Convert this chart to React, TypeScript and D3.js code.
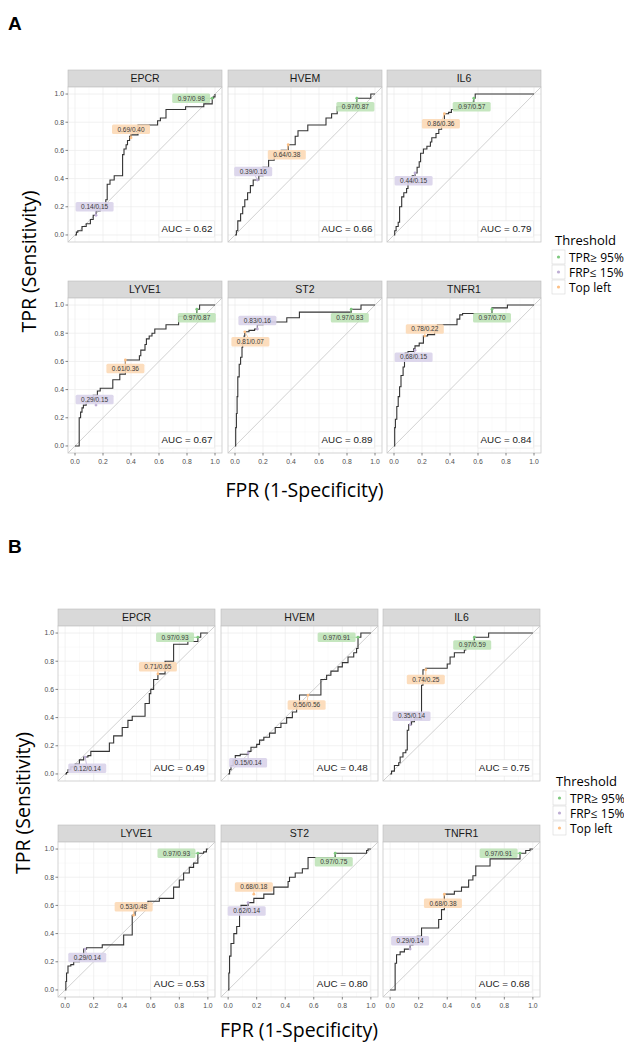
import React from "react";
import * as d3 from "d3";

// ---------- data ----------
const markers = ["EPCR", "HVEM", "IL6", "LYVE1", "ST2", "TNFR1"];
const axisTicks = [0, 0.2, 0.4, 0.6, 0.8, 1.0];
const legendLabels = ["TPR\u2265 95%", "FRP\u2264 15%", "Top left"];
const thresholdColors = ["#7fc97f", "#beaed4", "#fdc086"];
const labelFills = ["#bfe3b8", "#d9d3ea", "#fcd9b6"];

// ROC curves: [fpr where tpr rises, tpr after rise]
const rocEpcrA = [[0,0],[0.01,0.02],[0.02,0.03],[0.05,0.06],[0.08,0.08],[0.11,0.11],[0.13,0.14],[0.15,0.17],[0.18,0.2],[0.22,0.25],[0.23,0.36],[0.25,0.39],[0.28,0.42],[0.34,0.57],[0.35,0.61],[0.365,0.64],[0.375,0.67],[0.39,0.7],[0.4,0.71],[0.45,0.78],[0.59,0.81],[0.61,0.83],[0.65,0.89],[0.79,0.91],[0.92,0.93],[0.98,0.97],[0.99,0.98],[1,1]];
const rocHvemA = [[0,0],[0.01,0.03],[0.02,0.1],[0.04,0.15],[0.055,0.2],[0.07,0.25],[0.09,0.3],[0.11,0.35],[0.13,0.39],[0.17,0.42],[0.2,0.48],[0.24,0.53],[0.28,0.56],[0.33,0.6],[0.38,0.64],[0.43,0.7],[0.45,0.74],[0.52,0.78],[0.65,0.83],[0.69,0.86],[0.73,0.91],[0.87,0.97],[0.97,1.0],[1,1]];
const rocIl6A = [[0,0],[0.005,0.03],[0.015,0.06],[0.03,0.09],[0.04,0.2],[0.055,0.27],[0.07,0.3],[0.09,0.33],[0.1,0.37],[0.13,0.42],[0.15,0.44],[0.165,0.48],[0.18,0.52],[0.19,0.58],[0.21,0.61],[0.235,0.63],[0.26,0.66],[0.27,0.69],[0.3,0.72],[0.32,0.75],[0.34,0.78],[0.36,0.86],[0.39,0.87],[0.41,0.89],[0.46,0.91],[0.5,0.94],[0.57,0.97],[0.58,1.0],[1,1]];
const rocLyve1A = [[0,0],[0.03,0],[0.03,0.2],[0.04,0.24],[0.05,0.27],[0.06,0.29],[0.08,0.31],[0.1,0.33],[0.13,0.36],[0.16,0.39],[0.18,0.41],[0.27,0.47],[0.32,0.51],[0.36,0.61],[0.46,0.64],[0.47,0.68],[0.5,0.72],[0.51,0.76],[0.53,0.78],[0.55,0.8],[0.57,0.83],[0.65,0.86],[0.74,0.92],[0.87,0.97],[0.89,1.0],[1,1]];
const rocSt2A = [[0,0],[0.005,0.13],[0.01,0.23],[0.015,0.35],[0.02,0.49],[0.03,0.58],[0.04,0.63],[0.05,0.7],[0.055,0.75],[0.065,0.78],[0.07,0.81],[0.1,0.82],[0.14,0.83],[0.16,0.86],[0.2,0.88],[0.37,0.91],[0.46,0.95],[0.83,0.97],[0.9,1.0],[1,1]];
const rocTnfr1A = [[0,0],[0.005,0.13],[0.01,0.19],[0.02,0.28],[0.03,0.35],[0.04,0.42],[0.05,0.5],[0.065,0.56],[0.075,0.61],[0.08,0.66],[0.1,0.67],[0.14,0.69],[0.15,0.71],[0.18,0.73],[0.21,0.78],[0.24,0.79],[0.29,0.81],[0.31,0.86],[0.45,0.9],[0.47,0.93],[0.49,0.94],[0.7,0.98],[0.81,1.0],[1,1]];

const rocEpcrB = [[0,0],[0.01,0.01],[0.02,0.03],[0.04,0.05],[0.07,0.07],[0.1,0.1],[0.13,0.12],[0.16,0.13],[0.18,0.16],[0.31,0.22],[0.34,0.27],[0.4,0.33],[0.44,0.38],[0.47,0.41],[0.56,0.5],[0.59,0.57],[0.6,0.6],[0.62,0.67],[0.65,0.71],[0.7,0.8],[0.76,0.92],[0.86,0.94],[0.93,0.97],[0.95,1.0],[1,1]];
const rocHvemB = [[0,0],[0.01,0.03],[0.02,0.06],[0.035,0.1],[0.05,0.13],[0.085,0.14],[0.14,0.16],[0.16,0.19],[0.2,0.21],[0.22,0.24],[0.25,0.26],[0.29,0.29],[0.33,0.33],[0.37,0.36],[0.41,0.4],[0.45,0.44],[0.48,0.5],[0.5,0.56],[0.56,0.56],[0.65,0.67],[0.69,0.7],[0.72,0.73],[0.77,0.76],[0.8,0.79],[0.84,0.83],[0.88,0.86],[0.9,0.89],[0.91,0.97],[0.93,1.0],[1,1]];
const rocIl6B = [[0,0],[0.01,0.02],[0.03,0.06],[0.06,0.08],[0.07,0.12],[0.09,0.15],[0.11,0.17],[0.12,0.31],[0.13,0.35],[0.15,0.37],[0.17,0.39],[0.22,0.63],[0.23,0.74],[0.25,0.75],[0.4,0.78],[0.42,0.83],[0.45,0.86],[0.52,0.88],[0.53,0.9],[0.55,0.93],[0.59,0.97],[0.69,1.0],[1,1]];
const rocLyve1B = [[0,0],[0.005,0.06],[0.01,0.12],[0.02,0.17],[0.04,0.18],[0.06,0.2],[0.1,0.22],[0.13,0.29],[0.15,0.3],[0.26,0.32],[0.41,0.39],[0.47,0.53],[0.49,0.56],[0.5,0.58],[0.52,0.6],[0.58,0.63],[0.66,0.65],[0.76,0.73],[0.8,0.78],[0.83,0.83],[0.87,0.87],[0.9,0.9],[0.93,0.97],[0.97,0.98],[0.99,1.0],[1,1]];
const rocSt2B = [[0,0],[0.005,0.12],[0.01,0.24],[0.02,0.33],[0.04,0.4],[0.06,0.45],[0.08,0.54],[0.09,0.6],[0.14,0.62],[0.18,0.65],[0.25,0.68],[0.32,0.73],[0.42,0.77],[0.43,0.8],[0.47,0.83],[0.52,0.86],[0.56,0.94],[0.75,0.97],[0.97,0.99],[0.98,1.0],[1,1]];
const rocTnfr1B = [[0,0],[0.03,0],[0.035,0.19],[0.045,0.25],[0.07,0.27],[0.1,0.29],[0.14,0.32],[0.16,0.35],[0.19,0.38],[0.22,0.44],[0.34,0.5],[0.36,0.57],[0.38,0.68],[0.45,0.7],[0.5,0.73],[0.55,0.78],[0.58,0.81],[0.6,0.88],[0.7,0.93],[0.91,0.97],[0.95,0.99],[0.98,1.0],[1,1]];

const aucA = [0.62, 0.66, 0.79, 0.67, 0.89, 0.84];
const aucB = [0.49, 0.48, 0.75, 0.53, 0.80, 0.68];

// threshold points [tpr, fpr]
const tpr95A = [[0.97,0.98],[0.97,0.87],[0.97,0.57],[0.97,0.87],[0.97,0.83],[0.97,0.70]];
const frp15A = [[0.14,0.15],[0.39,0.16],[0.44,0.15],[0.29,0.15],[0.83,0.16],[0.68,0.15]];
const topLeftA = [[0.69,0.40],[0.64,0.38],[0.86,0.36],[0.61,0.36],[0.81,0.07],[0.78,0.22]];
const tpr95B = [[0.97,0.93],[0.97,0.91],[0.97,0.59],[0.97,0.93],[0.97,0.75],[0.97,0.91]];
const frp15B = [[0.12,0.14],[0.15,0.14],[0.35,0.14],[0.29,0.14],[0.62,0.14],[0.29,0.14]];
const topLeftB = [[0.71,0.65],[0.56,0.56],[0.74,0.25],[0.53,0.48],[0.68,0.18],[0.68,0.38]];

// repelled label centres [fpr, tpr]
const tpr95LabelA = [[0.83,0.97],[0.86,0.91],[0.555,0.91],[0.87,0.91],[0.82,0.91],[0.70,0.91]];
const frp15LabelA = [[0.14,0.20],[0.13,0.45],[0.14,0.385],[0.14,0.33],[0.16,0.89],[0.14,0.63]];
const topLeftLabelA = [[0.40,0.75],[0.37,0.57],[0.335,0.79],[0.36,0.55],[0.11,0.74],[0.22,0.83]];
const tpr95LabelB = [[0.77,0.97],[0.76,0.97],[0.575,0.915],[0.78,0.97],[0.74,0.91],[0.76,0.97]];
const frp15LabelB = [[0.155,0.04],[0.14,0.08],[0.15,0.41],[0.155,0.23],[0.13,0.56],[0.14,0.35]];
const topLeftLabelB = [[0.65,0.76],[0.55,0.49],[0.25,0.67],[0.48,0.59],[0.18,0.73],[0.37,0.615]];

const rocA = [rocEpcrA, rocHvemA, rocIl6A, rocLyve1A, rocSt2A, rocTnfr1A];
const rocB = [rocEpcrB, rocHvemB, rocIl6B, rocLyve1B, rocSt2B, rocTnfr1B];

// ---------- components ----------
const SANS = "Liberation Sans, Arial, sans-serif";
const TITLE = "Open Sans, sans-serif";

type PanelProps = {
  left: number; top: number; w: number; h: number; stripH: number;
  name: string; roc: number[][]; auc: number;
  thr: number[][]; labels: number[][];
  yAxis: boolean; xAxis: boolean;
};

function Panel(p: PanelProps) {
  const x = d3.scaleLinear().domain([-0.05, 1.05]).range([p.left, p.left + p.w]);
  const y = d3.scaleLinear().domain([-0.05, 1.05]).range([p.top + p.h, p.top]);
  const line = d3.line<number[]>().x(d => x(d[0])).y(d => y(d[1])).curve(d3.curveStepAfter);
  const minor = [0.1, 0.3, 0.5, 0.7, 0.9];
  return (
    <g>
      <rect x={p.left} y={p.top - p.stripH} width={p.w} height={p.stripH} fill="#d9d9d9" stroke="#bdbdbd" strokeWidth={0.6} />
      <text x={p.left + p.w / 2} y={p.top - p.stripH / 2 + 3.8} textAnchor="middle" fontSize={10.5} fill="#1a1a1a" fontFamily={SANS}>{p.name}</text>
      <rect x={p.left} y={p.top} width={p.w} height={p.h} fill="#ffffff" />
      {minor.map(v => (
        <g key={"m" + v}>
          <line x1={x(v)} x2={x(v)} y1={p.top} y2={p.top + p.h} stroke="#f4f4f4" strokeWidth={0.5} />
          <line y1={y(v)} y2={y(v)} x1={p.left} x2={p.left + p.w} stroke="#f4f4f4" strokeWidth={0.5} />
        </g>
      ))}
      {axisTicks.map(v => (
        <g key={"g" + v}>
          <line x1={x(v)} x2={x(v)} y1={p.top} y2={p.top + p.h} stroke="#ebebeb" strokeWidth={0.7} />
          <line y1={y(v)} y2={y(v)} x1={p.left} x2={p.left + p.w} stroke="#ebebeb" strokeWidth={0.7} />
        </g>
      ))}
      <line x1={x(-0.05)} y1={y(-0.05)} x2={x(1.05)} y2={y(1.05)} stroke="#bdbdbd" strokeWidth={0.7} />
      <path d={line(p.roc) || ""} fill="none" stroke="#333333" strokeWidth={1.1} />
      {p.thr.map((t, i) => {
        const [tpr, fpr] = t;
        const [lx, ly] = p.labels[i];
        const txt = `${tpr.toFixed(2)}/${fpr.toFixed(2)}`;
        const bw = 38, bh = 9.5;
        return (
          <g key={"t" + i}>
            <line x1={x(fpr)} y1={y(tpr)} x2={x(lx)} y2={y(ly)} stroke={thresholdColors[i]} strokeWidth={0.8} />
            <circle cx={x(fpr)} cy={y(tpr)} r={1.4} fill={thresholdColors[i]} />
            <rect x={x(lx) - bw / 2} y={y(ly) - bh / 2} width={bw} height={bh} rx={1.5} fill={labelFills[i]} opacity={0.9} />
            <text x={x(lx)} y={y(ly) + 2.3} textAnchor="middle" fontSize={6.5} fill="#3a3a3a" fontFamily={SANS}>{txt}</text>
          </g>
        );
      })}
      <rect x={x(0.6)} y={y(0.1)} width={x(0.995) - x(0.6)} height={y(-0.015) - y(0.1)} fill="#ffffff" stroke="#e6e6e6" strokeWidth={0.6} />
      <text x={x(0.8)} y={y(0.043) + 3.4} textAnchor="middle" fontSize={9.8} fill="#1a1a1a" fontFamily={SANS}>{`AUC = ${p.auc.toFixed(2)}`}</text>
      <rect x={p.left} y={p.top} width={p.w} height={p.h} fill="none" stroke="#c8c8c8" strokeWidth={0.8} />
      {p.yAxis && axisTicks.map(v => (
        <g key={"y" + v}>
          <line x1={p.left - 2.5} x2={p.left} y1={y(v)} y2={y(v)} stroke="#333" strokeWidth={0.6} />
          <text x={p.left - 4} y={y(v) + 2.4} textAnchor="end" fontSize={6.8} fill="#4d4d4d" fontFamily={SANS}>{v.toFixed(1)}</text>
        </g>
      ))}
      {p.xAxis && axisTicks.map(v => (
        <g key={"x" + v}>
          <line x1={x(v)} x2={x(v)} y1={p.top + p.h} y2={p.top + p.h + 2.5} stroke="#333" strokeWidth={0.6} />
          <text x={x(v)} y={p.top + p.h + 10.5} textAnchor="middle" fontSize={6.8} fill="#4d4d4d" fontFamily={SANS}>{v.toFixed(1)}</text>
        </g>
      ))}
    </g>
  );
}

type BlockProps = {
  letter: string; letterY: number;
  lefts: number[]; w: number; tops: number[]; h: number; stripH: number;
  rocs: number[][][]; aucs: number[];
  thrs: number[][][]; labs: number[][][];
  yTitleX: number; xTitleY: number; legendX: number; legendY: number;
};

function Block(b: BlockProps) {
  const yMid = (b.tops[0] - b.stripH + b.tops[1] + b.h) / 2;
  const xMid = (b.lefts[0] + b.lefts[2] + b.w) / 2;
  return (
    <g>
      <text x={8} y={b.letterY} fontSize={19} fontWeight="bold" fontFamily={SANS} fill="#000">{b.letter}</text>
      {markers.map((m, i) => {
        const col = i % 3, row = Math.floor(i / 3);
        return (
          <Panel key={m} left={b.lefts[col]} top={b.tops[row]} w={b.w} h={b.h} stripH={b.stripH}
            name={m} roc={b.rocs[i]} auc={b.aucs[i]}
            thr={b.thrs.map(t => t[i])} labels={b.labs.map(l => l[i])}
            yAxis={col === 0} xAxis={row === 1} />
        );
      })}
      <text transform={`translate(${b.yTitleX},${yMid}) rotate(-90)`} textAnchor="middle" fontSize={19.5} fontFamily={TITLE} fill="#000">TPR (Sensitivity)</text>
      <text x={xMid} y={b.xTitleY} textAnchor="middle" fontSize={19.5} fontFamily={TITLE} fill="#000">FPR (1-Specificity)</text>
      <text x={b.legendX + 3} y={b.legendY} fontSize={13} fontFamily={TITLE} fill="#000">Threshold</text>
      {legendLabels.map((l, i) => (
        <g key={l}>
          <rect x={b.legendX} y={b.legendY + 5 + i * 15} width={13} height={14} fill="#fff" stroke="#d6d6d6" strokeWidth={0.6} />
          <circle cx={b.legendX + 6.5} cy={b.legendY + 12 + i * 15} r={1.6} fill={thresholdColors[i]} />
          <text x={b.legendX + 17} y={b.legendY + 16.5 + i * 15} fontSize={12} fontFamily={TITLE} fill="#000">{l}</text>
        </g>
      ))}
    </g>
  );
}

export default function App() {
  return (
    <svg width={616} height={1042} style={{ display: "block" }}>
      <rect x={0} y={0} width={616} height={1042} fill="#fff" />
      <g transform="translate(-8,-8)">
        <Block letter="A" letterY={30} lefts={[68, 228, 387]} w={154} tops={[87, 298]} h={155} stripH={17}
          rocs={rocA} aucs={aucA} thrs={[tpr95A, frp15A, topLeftA]} labs={[tpr95LabelA, frp15LabelA, topLeftLabelA]}
          yTitleX={36} xTitleY={497} legendX={552} legendY={245} />
        <Block letter="B" letterY={553} lefts={[58, 221, 383]} w={157} tops={[626, 842]} h={155} stripH={17}
          rocs={rocB} aucs={aucB} thrs={[tpr95B, frp15B, topLeftB]} labs={[tpr95LabelB, frp15LabelB, topLeftLabelB]}
          yTitleX={30} xTitleY={1037} legendX={553} legendY={786} />
      </g>
    </svg>
  );
}
